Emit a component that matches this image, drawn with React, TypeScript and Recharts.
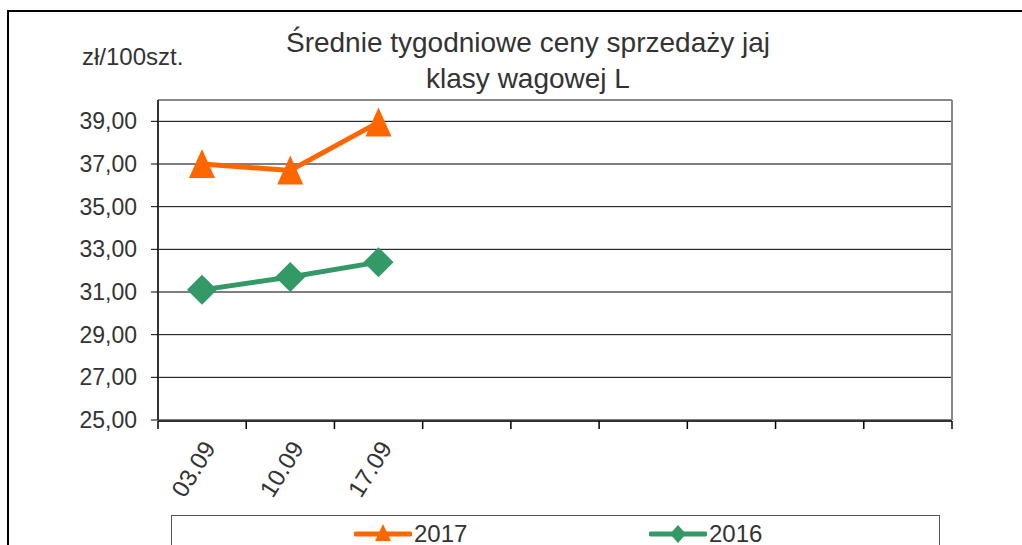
import { LineChart, Line, XAxis, YAxis, CartesianGrid } from 'recharts';

const weeks = ['03.09', '10.09', '17.09', '', '', '', '', '', ''];
const prices2017 = [37.0, 36.7, 38.95];
const prices2016 = [31.1, 31.7, 32.4];
const yTicks = [25, 27, 29, 31, 33, 35, 37, 39];
const slotEdges = [-0.5, 0.5, 1.5, 2.5, 3.5, 4.5, 5.5, 6.5, 7.5, 8.5];

const ORANGE = '#ff6600';
const GREEN = '#339966';
const FONT = '"Liberation Sans", Arial, sans-serif';

const data = weeks.map((week, i) => ({
  slot: i,
  week,
  y2017: prices2017[i] ?? null,
  y2016: prices2016[i] ?? null,
}));

function Triangle(props: any) {
  const { cx, cy, index } = props;
  if (cx == null || cy == null) return <g key={`t-${index}`} />;
  return (
    <polygon
      key={`t-${index}`}
      points={`${cx},${cy - 15} ${cx + 13},${cy + 14} ${cx - 13},${cy + 14}`}
      fill={ORANGE}
    />
  );
}

function Diamond(props: any) {
  const { cx, cy, index } = props;
  if (cx == null || cy == null) return <g key={`d-${index}`} />;
  return (
    <polygon
      key={`d-${index}`}
      points={`${cx},${cy - 15} ${cx + 15},${cy} ${cx},${cy + 15} ${cx - 15},${cy}`}
      fill={GREEN}
    />
  );
}

// empty tick label so only the tick lines of the edge axis are drawn
const NoLabel = () => <g />;

function LegendItem({ label, colour, shape }: { label: string; colour: string; shape: 'tri' | 'dia' }) {
  return (
    <div style={{ display: 'flex', alignItems: 'center' }}>
      <svg width={58} height={24}>
        <line x1={2} y1={12} x2={56} y2={12} stroke={colour} strokeWidth={5} strokeLinecap="round" />
        {shape === 'tri' ? (
          <polygon points="29,2 37,19 21,19" fill={colour} />
        ) : (
          <polygon points="29,3 37,12 29,21 21,12" fill={colour} />
        )}
      </svg>
      <span style={{ fontSize: 24, color: '#333', marginLeft: 2 }}>{label}</span>
    </div>
  );
}

export default function App() {
  return (
    <div style={{ position: 'absolute', left: 0, top: 0, width: 1022, height: 545, overflow: 'hidden', fontFamily: FONT, background: '#fff' }}>
      <div style={{ position: 'absolute', left: 7, top: 10, width: 1040, height: 560, border: '2px solid #000' }} />
      <div style={{ position: 'absolute', left: 178, top: 25, width: 700, textAlign: 'center', fontSize: 28, lineHeight: '36px', color: '#333' }}>
        Średnie tygodniowe ceny sprzedaży jaj
        <br />
        klasy wagowej L
      </div>
      <div style={{ position: 'absolute', left: 82, top: 43, fontSize: 24, color: '#333' }}>zł/100szt.</div>

      <div style={{ position: 'absolute', left: 0, top: 0 }}>
        <LineChart width={1022} height={545} data={data} margin={{ top: 99, right: 69, bottom: 123, left: 157 }}>
          <CartesianGrid vertical={false} stroke="#000" strokeWidth={1} />
          <XAxis xAxisId="top" orientation="top" dataKey="slot" type="number" domain={[-0.5, 8.5]} allowDataOverflow height={1} tick={false} tickLine={false} axisLine={{ stroke: '#888', strokeWidth: 2 }} />
          <XAxis
            xAxisId="edges"
            dataKey="slot"
            type="number"
            domain={[-0.5, 8.5]}
            ticks={slotEdges}
            interval={0}
            allowDataOverflow
            height={1}
            tick={NoLabel}
            tickSize={8}
            tickLine={{ stroke: '#000', strokeWidth: 1.5 }}
            axisLine={{ stroke: '#333', strokeWidth: 2 }}
          />
          <XAxis
            dataKey="slot"
            height={1}
            interval={0}
            padding={{ left: 44, right: 44 }}
            axisLine={false}
            tickLine={false}
            tickSize={8}
            tickMargin={11}
            angle={-58}
            textAnchor="end"
            tickFormatter={(v: number) => weeks[v]}
            tick={{ fontSize: 24, fill: '#333', fontFamily: FONT }}
          />
          <YAxis
            domain={[25, 40]}
            ticks={yTicks}
            width={1}
            tickSize={7}
            tickMargin={14}
            tickLine={{ stroke: '#000' }}
            axisLine={{ stroke: '#333', strokeWidth: 2 }}
            tickFormatter={(v: number) => v.toFixed(2).replace('.', ',')}
            tick={{ fontSize: 23, fill: '#333', fontFamily: FONT }}
          />
          <YAxis yAxisId="right" orientation="right" domain={[25, 40]} width={1} tick={false} tickLine={false} axisLine={{ stroke: '#888', strokeWidth: 2 }} />
          <Line dataKey="y2017" stroke={ORANGE} strokeWidth={5} dot={Triangle} activeDot={false} isAnimationActive={false} connectNulls={false} />
          <Line dataKey="y2016" stroke={GREEN} strokeWidth={5} dot={Diamond} activeDot={false} isAnimationActive={false} connectNulls={false} />
        </LineChart>
      </div>

      <div style={{ position: 'absolute', left: 171, top: 515, width: 767, height: 50, border: '1.5px solid #555', background: '#fff' }}>
        <div style={{ position: 'absolute', left: 182, top: 4 }}>
          <LegendItem label="2017" colour={ORANGE} shape="tri" />
        </div>
        <div style={{ position: 'absolute', left: 477, top: 4 }}>
          <LegendItem label="2016" colour={GREEN} shape="dia" />
        </div>
      </div>
    </div>
  );
}
